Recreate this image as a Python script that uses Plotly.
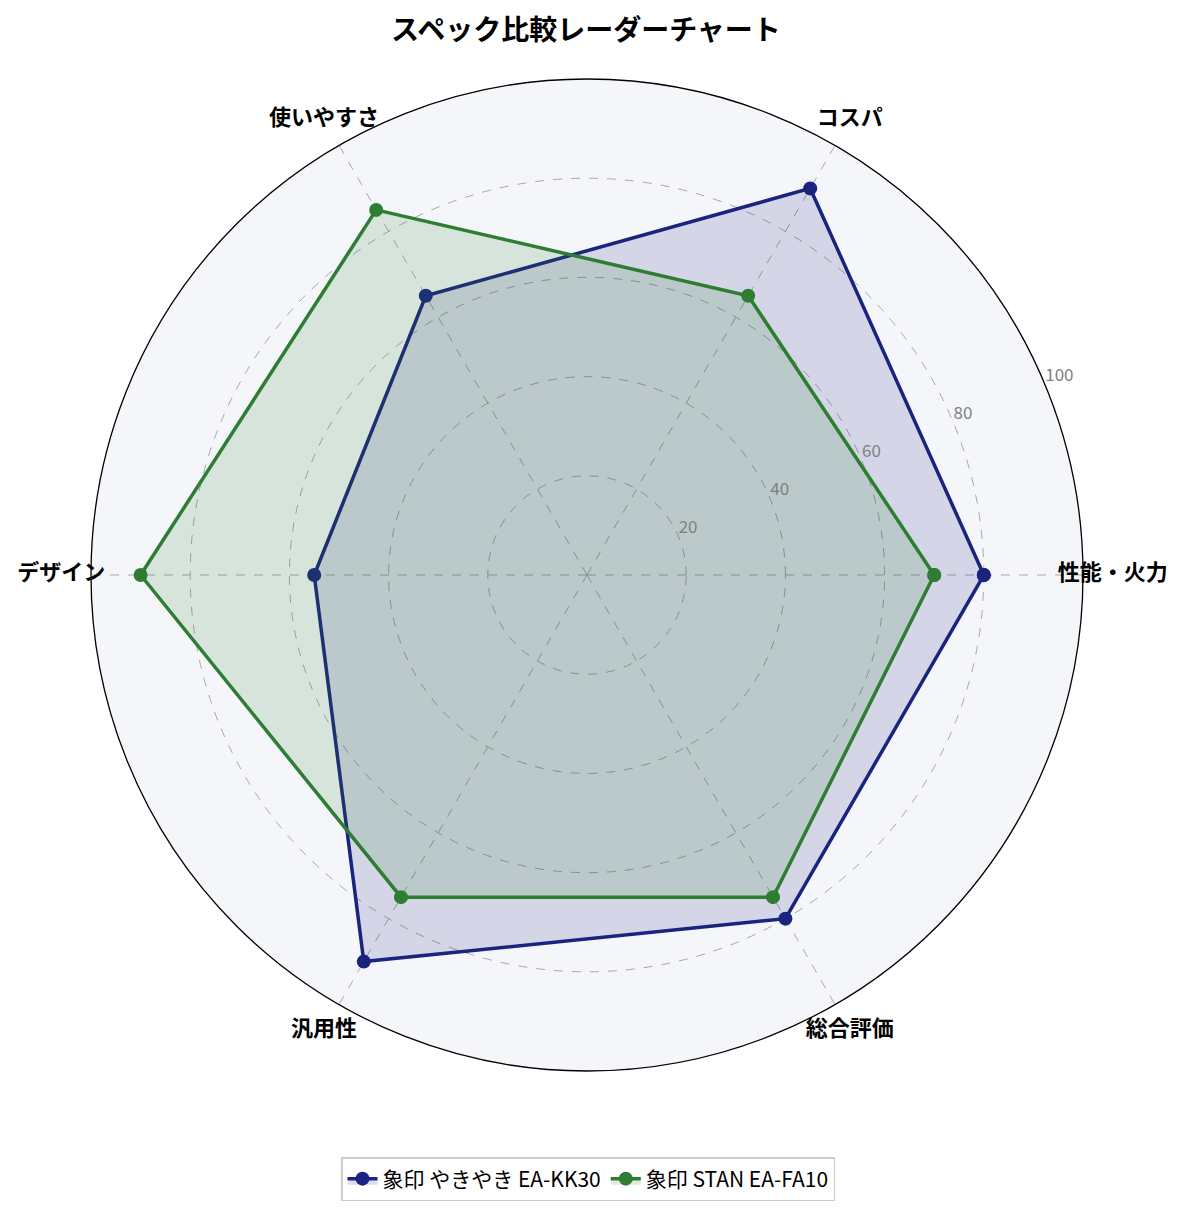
import plotly.graph_objects as go

# data
categories = ["性能・火力", "コスパ", "使いやすさ", "デザイン", "汎用性", "総合評価"]
kk30_values = [80, 90, 65, 55, 90, 80]
fa10_values = [70, 65, 85, 90, 75, 75]
kk30_name = "象印 やきやき EA-KK30"
fa10_name = "象印 STAN EA-FA10"
radial_ticks = [20, 40, 60, 80, 100]

FONT = "Noto Sans CJK JP"
W, H = 1185, 1211
PAD = 8  # page body margin

# polar centre and radius in page pixels
CX, CY, R = 587 - PAD, 575 - PAD, 496
OUTER = 1.1  # label axis reaches 110 on the same scale


def dom(cx, cy, r):
    return dict(x=[(cx - r) / W, (cx + r) / W], y=[1 - (cy + r) / H, 1 - (cy - r) / H])


# angle for each category, counterclockwise from 3 o'clock
angles = [i * 360 / len(categories) for i in range(len(categories))]

fig = go.Figure()


def add_series(values, name, color, fill):
    fig.add_trace(go.Scatterpolar(
        r=values + values[:1],
        theta=angles + angles[:1],
        mode="lines+markers",
        name=name,
        line=dict(color=color, width=3.5),
        marker=dict(color=color, size=14),
        fill="toself",
        fillcolor=fill,
        hoverinfo="skip",
    ))


add_series(kk30_values, kk30_name, "#1a237e", "rgba(26,35,126,0.15)")
add_series(fa10_values, fa10_name, "#2e7d32", "rgba(46,125,50,0.15)")

# category labels just outside the outer ring (drawn on a wider overlay axis)
fig.add_trace(go.Scatterpolar(
    r=[106] * len(categories),
    theta=angles,
    mode="text",
    text=["<b>%s</b>" % c for c in categories],
    textfont=dict(family=FONT, size=22, color="black"),
    showlegend=False,
    hoverinfo="skip",
    subplot="polar2",
))

# radial tick labels along the 22.5 degree line, left/bottom anchored
fig.add_trace(go.Scatterpolar(
    r=radial_ticks,
    theta=[22.5] * len(radial_ticks),
    mode="text",
    text=[str(t) for t in radial_ticks],
    textposition="top right",
    textfont=dict(family=FONT, size=17, color="#808080"),
    showlegend=False,
    hoverinfo="skip",
    subplot="polar2",
))

grid = dict(gridcolor="#a8a8a8", gridwidth=0.8, griddash="dash")

fig.update_layout(
    width=W, height=H,
    margin=dict(l=0, r=0, t=0, b=0),
    paper_bgcolor="white",
    font=dict(family=FONT, color="black"),
    title=dict(text="<b>スペック比較レーダーチャート</b>", x=(586 - PAD) / W, xanchor="center",
               y=1 - (30 - PAD) / H, yanchor="middle", yref="container",
               font=dict(family=FONT, size=28, color="black")),
    polar=dict(
        domain=dom(CX, CY, R),
        bgcolor="#f5f6fa",
        radialaxis=dict(range=[0, 100], tickvals=radial_ticks, showticklabels=False,
                        ticks="", showline=False, **grid),
        angularaxis=dict(tickmode="array", tickvals=angles, showticklabels=False,
                         ticks="", rotation=0, direction="counterclockwise",
                         showline=True, linecolor="black", linewidth=1.3, **grid),
    ),
    polar2=dict(
        domain=dom(CX, CY, R * OUTER),
        bgcolor="rgba(0,0,0,0)",
        radialaxis=dict(range=[0, 100 * OUTER], visible=False),
        angularaxis=dict(rotation=0, direction="counterclockwise", visible=False),
    ),
    legend=dict(orientation="h", x=(588 - PAD) / W, xanchor="center",
                y=1 - (1179 - PAD) / H, yanchor="middle",
                bordercolor="#cccccc", borderwidth=1.5, bgcolor="white",
                font=dict(family=FONT, size=21, color="black")),
)

fig.write_html("out.html")
